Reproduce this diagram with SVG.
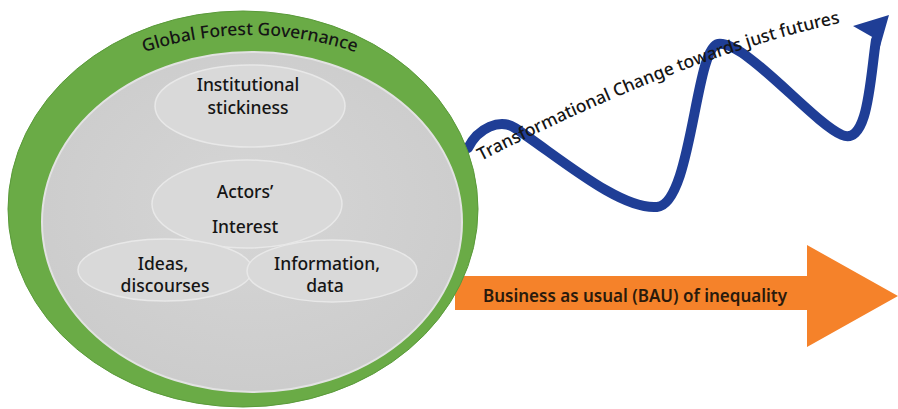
<svg xmlns="http://www.w3.org/2000/svg" width="898" height="409" viewBox="0 0 898 409">
  <defs>
    <style>
      text { font-family: "Noto Sans", "Open Sans", sans-serif; fill: #151515; font-weight: 500; }
      .lbl { font-size: 17.5px; text-anchor: middle; }
      .sub { fill: #d9d9d9; stroke: #e8e8e8; stroke-width: 1.5; }
    </style>
    <radialGradient id="core" cx="50%" cy="45%" r="60%">
      <stop offset="0" stop-color="#d6d6d6"/>
      <stop offset="1" stop-color="#cbcbcb"/>
    </radialGradient>
    <path id="ringArc" d="M 108 66 Q 250 4 392 66"/>
    <path id="waveArc" d="M 481 161 Q 708 45 866 18"/>
  </defs>

  <rect width="898" height="409" fill="#ffffff"/>

  <g id="connectors">
    <!-- business as usual arrow -->
    <polygon id="bau-arrow" points="455,276 807,276 807,245 898,296 807,347 807,310 455,310" fill="#f5822a"/>
    <!-- wavy transformation arrow -->
    <path id="wave" d="M 468 148 C 478 128, 500 118, 515 128 C 560 158, 620 210, 657 207 C 692 204, 695 48, 718 44 C 745 40, 812 122, 842 135 C 868 146, 870 80, 876 40"
          fill="none" stroke="#1f3e96" stroke-width="10" stroke-linecap="round"/>
    <polygon id="wave-head" points="853,26 889,15 879,50 874,38" fill="#1f3e96"/>
  </g>

  <g id="global-forest-governance">
    <ellipse cx="243" cy="209" rx="235" ry="198" fill="#6aab46" stroke="#5a9a3a" stroke-width="1"/>
    <ellipse cx="252" cy="222" rx="210" ry="170" fill="url(#core)" stroke="#e2e2e2" stroke-width="2"/>
    <text class="lbl"><textPath href="#ringArc" startOffset="50%">Global Forest Governance</textPath></text>
  </g>

  <g id="institutional-stickiness">
    <ellipse class="sub" cx="250" cy="106" rx="95" ry="41"/>
    <text class="lbl" x="248" y="91">Institutional</text>
    <text class="lbl" x="248" y="114">stickiness</text>
  </g>

  <g id="actors-interest">
    <ellipse class="sub" cx="247" cy="204" rx="95" ry="44"/>
    <text class="lbl" x="245" y="198">Actors’</text>
    <text class="lbl" x="245" y="233">Interest</text>
  </g>

  <g id="ideas-discourses">
    <ellipse class="sub" cx="165" cy="270" rx="87" ry="31"/>
    <text class="lbl" x="163" y="270">Ideas,</text>
    <text class="lbl" x="165" y="292">discourses</text>
  </g>

  <g id="information-data">
    <ellipse class="sub" cx="332" cy="271" rx="85" ry="31"/>
    <text class="lbl" x="327" y="270">Information,</text>
    <text class="lbl" x="325" y="292">data</text>
  </g>

  <g id="labels">
    <text style="font-size:17.5px"><textPath href="#waveArc">Transformational Change towards just futures</textPath></text>
    <text x="483" y="302" style="font-size:17px;font-weight:600;fill:#2a1a0c">Business as usual (BAU) of inequality</text>
  </g>
</svg>
